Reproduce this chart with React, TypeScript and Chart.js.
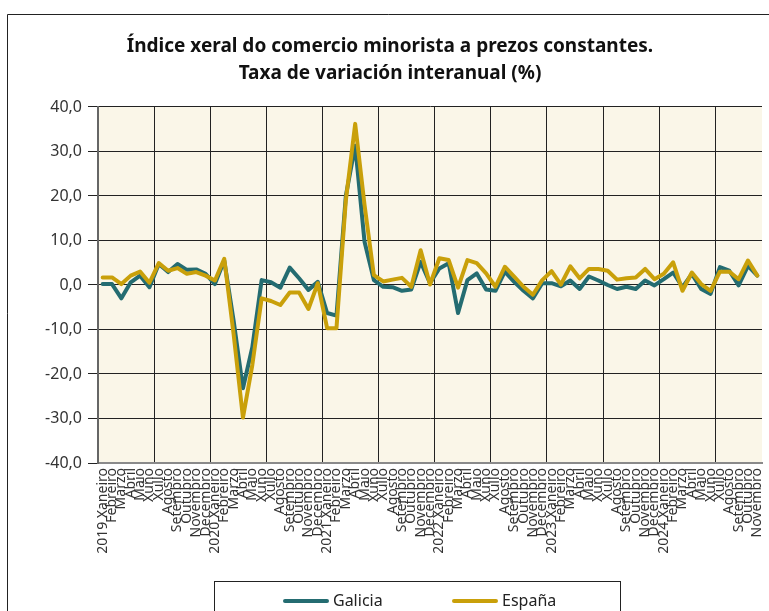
import React, { useEffect, useRef } from "react";
import { Chart, registerables } from "chart.js";

Chart.register(...registerables);

const MONTHS = ["Xaneiro", "Febreiro", "Marzo", "Abril", "Maio", "Xuño", "Xullo", "Agosto", "Setembro", "Outubro", "Novembro", "Decembro"];
const YEARS = [2019, 2020, 2021, 2022, 2023, 2024];
const MONTHS_IN_LAST_YEAR = 11;

const CATEGORIES: string[] = [];
YEARS.forEach((y, yi) => {
  const n = yi === YEARS.length - 1 ? MONTHS_IN_LAST_YEAR : 12;
  for (let m = 0; m < n; m++) CATEGORIES.push(m === 0 ? `${y} ${MONTHS[m]}` : MONTHS[m]);
});

const GALICIA = [
  0.2, 0.2, -3.0, 0.6, 2.1, -0.5, 4.7, 2.9, 4.7, 3.4, 3.5, 2.5,
  0.2, 5.5, -8.0, -23.2, -14.0, 1.1, 0.6, -0.6, 3.9, 1.5, -1.1, 0.7,
  -6.3, -6.9, 20.0, 31.3, 9.7, 1.1, -0.4, -0.5, -1.3, -1.0, 5.2, 0.4,
  3.7, 4.9, -6.3, 1.1, 2.6, -1.0, -1.3, 3.0, 0.7, -1.3, -3.0, 0.4,
  0.4, -0.3, 1.0, -0.9, 1.9, 1.0, 0.0, -0.9, -0.4, -0.9, 1.0, -0.1,
  1.3, 2.8, -0.5, 2.5, -0.9, -2.0, 4.0, 3.2, -0.1, 4.3, 2.1,
];

const ESPANA = [
  1.7, 1.7, 0.2, 2.1, 3.0, 0.5, 4.9, 3.2, 3.8, 2.5, 2.9, 2.1,
  1.0, 5.9, -11.0, -29.8, -18.0, -3.0, -3.6, -4.5, -1.7, -1.7, -5.4, 0.4,
  -9.7, -9.7, 19.0, 36.2, 18.0, 2.2, 0.8, 1.2, 1.6, -0.4, 7.8, 0.1,
  6.0, 5.6, -0.6, 5.6, 4.9, 2.6, -0.4, 4.1, 1.9, -0.4, -2.2, 1.1,
  3.1, 0.1, 4.2, 1.5, 3.6, 3.6, 3.2, 1.2, 1.5, 1.7, 3.6, 1.3,
  2.5, 5.1, -1.3, 2.8, 0.2, -1.3, 3.0, 3.0, 1.3, 5.5, 2.1,
];

const TITLE_LINES = ["Índice xeral do comercio minorista a prezos constantes.", "Taxa de variación interanual (%)"];
const Y_MIN = -40;
const Y_MAX = 40;
const Y_STEP = 10;

const TEAL = "#246C71";
const GOLD = "#C9A00A";
const PLOT_BG = "#FAF6E8";
const FONT = "'Noto Sans', 'DejaVu Sans', sans-serif";

const framePlugin = {
  id: "frameAndBg",
  beforeDraw(chart: any) {
    const { ctx, chartArea, width, height } = chart;
    ctx.save();
    ctx.fillStyle = "#ffffff";
    ctx.fillRect(0, 0, width, height);
    ctx.strokeStyle = "#222";
    ctx.lineWidth = 1;
    ctx.beginPath();
    ctx.moveTo(7.5, height + 2);
    ctx.lineTo(7.5, 14.5);
    ctx.lineTo(width + 2, 14.5);
    ctx.stroke();
    ctx.fillStyle = PLOT_BG;
    ctx.fillRect(chartArea.left, chartArea.top, chartArea.right - chartArea.left, chartArea.bottom - chartArea.top);
    ctx.restore();
  },
};

const legendPlugin = {
  id: "boxLegend",
  afterDraw(chart: any) {
    const { ctx, height } = chart;
    ctx.save();
    ctx.strokeStyle = "#222";
    ctx.lineWidth = 1;
    ctx.strokeRect(214.5, 581.5, 406, height);
    const starts = [283, 452];
    const y = 601;
    ctx.font = `16px ${FONT}`;
    ctx.textBaseline = "middle";
    ctx.textAlign = "left";
    chart.data.datasets.forEach((ds: any, i: number) => {
      const x = starts[i];
      ctx.strokeStyle = ds.borderColor;
      ctx.lineWidth = 4;
      ctx.lineCap = "round";
      ctx.beginPath();
      ctx.moveTo(x + 2, y);
      ctx.lineTo(x + 44, y);
      ctx.stroke();
      ctx.fillStyle = "#222";
      ctx.fillText(ds.label, x + 50, y);
    });
    ctx.restore();
  },
};

export default function App() {
  const ref = useRef<HTMLCanvasElement>(null);

  useEffect(() => {
    const canvas = ref.current;
    if (!canvas) return;
    const chart = new Chart(canvas, {
      type: "line",
      data: {
        labels: CATEGORIES,
        datasets: [
          {
            label: "Galicia",
            data: GALICIA,
            borderColor: TEAL,
            backgroundColor: TEAL,
            borderWidth: 4,
            pointRadius: 0,
            tension: 0,
            borderJoinStyle: "round",
            borderCapStyle: "round",
            order: 1,
          },
          {
            label: "España",
            data: ESPANA,
            borderColor: GOLD,
            backgroundColor: GOLD,
            borderWidth: 4,
            pointRadius: 0,
            tension: 0,
            borderJoinStyle: "round",
            borderCapStyle: "round",
            order: 0,
          },
        ],
      },
      options: {
        responsive: false,
        animation: false,
        devicePixelRatio: 1,
        layout: { padding: { left: 18, right: 7, top: 14, bottom: 0 } },
        plugins: {
          legend: { display: false },
          tooltip: { enabled: false },
          title: {
            display: true,
            text: TITLE_LINES,
            color: "#111",
            font: { family: FONT, size: 19, weight: "bold", lineHeight: 1.42 },
            padding: { top: 19.5, bottom: 19.5 },
          },
        },
        scales: {
          x: {
            type: "category",
            offset: true,
            grid: {
              offset: true,
              drawTicks: false,
              color: (c: any) => (c.index % 6 === 0 ? "#222" : "rgba(0,0,0,0)"),
              lineWidth: 1,
            },
            border: { display: true, color: "#8a8a8a", width: 2 },
            ticks: {
              autoSkip: false,
              maxRotation: 90,
              minRotation: 90,
              padding: 5,
              color: "#333",
              font: { family: FONT, size: 14 },
            },
            afterFit: (s: any) => {
              s.height = 148;
              s.paddingLeft = 0;
              s.paddingRight = 0;
            },
          },
          y: {
            min: Y_MIN,
            max: Y_MAX,
            grid: { color: "#222", lineWidth: 1, tickLength: 10 },
            border: { display: true, color: "#666", width: 2 },
            ticks: {
              stepSize: Y_STEP,
              padding: 6,
              color: "#333",
              font: { family: FONT, size: 16 },
              callback: (v: any) => Number(v).toFixed(1).replace(".", ","),
            },
            afterFit: (s: any) => {
              s.width = 80;
            },
          },
        },
      },
      plugins: [framePlugin, legendPlugin],
    });
    return () => chart.destroy();
  }, []);

  return (
    <div style={{ position: "absolute", left: 0, top: 0, width: 769, height: 611, overflow: "hidden", background: "#fff" }}>
      <canvas ref={ref} width={769} height={611} style={{ display: "block" }} />
    </div>
  );
}
